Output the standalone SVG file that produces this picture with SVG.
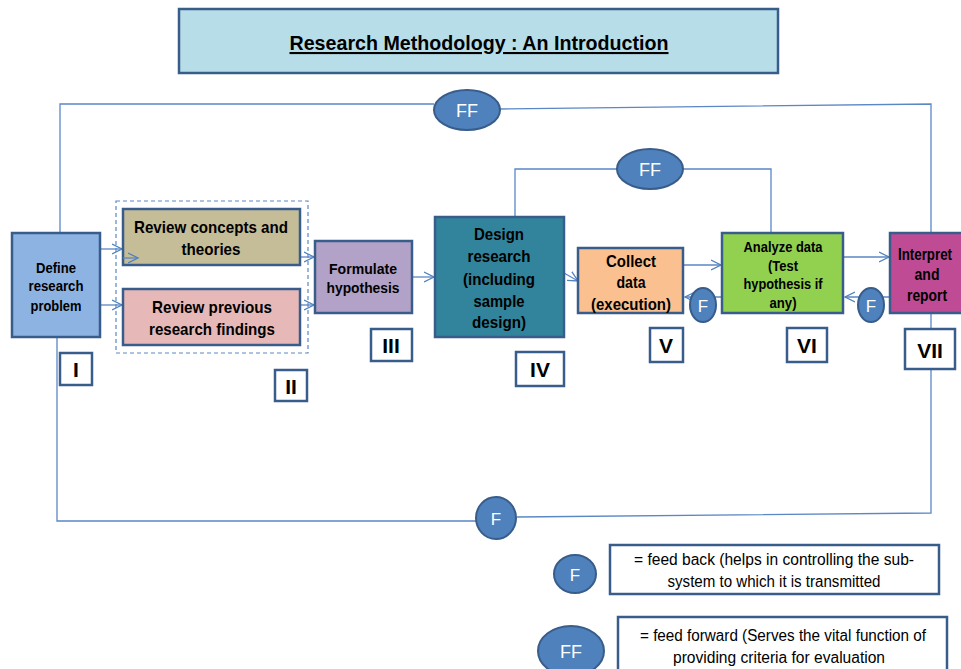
<svg xmlns="http://www.w3.org/2000/svg" width="961" height="669" viewBox="0 0 961 669">
<defs>
<marker id="arr" markerWidth="12" markerHeight="12" refX="10" refY="5" orient="auto" markerUnits="userSpaceOnUse" viewBox="0 0 12 10">
<path d="M0,0 L10,5 L0,10" fill="none" stroke="#4f81bd" stroke-width="1.3"/>
</marker>
<style>
.bx{stroke:#385d8a;stroke-width:2.5}
.num{fill:#fff;stroke:#385d8a;stroke-width:2.5}
.t{font-family:"Liberation Sans Narrow","Liberation Sans",Arial,sans-serif;font-weight:bold;fill:#000;text-anchor:middle}
.n{font-family:"Liberation Sans","Liberation Sans Narrow",Arial,sans-serif;font-weight:bold;fill:#000;text-anchor:middle;font-size:21px}
.lg{font-family:"Liberation Sans Narrow","Liberation Sans",Arial,sans-serif;fill:#000;text-anchor:middle;font-size:16px}
.ov{fill:#4f81bd;stroke:#385d8a;stroke-width:2}
.ot{font-family:"Liberation Sans Narrow","Liberation Sans",Arial,sans-serif;fill:#fff;text-anchor:middle}
.ln{fill:none;stroke:#5b87c5;stroke-width:1.3}
</style>
</defs>
<rect width="961" height="669" fill="#fff"/>

<g id="title">
<rect x="179" y="9" width="599" height="64" fill="#b7dde8" class="bx"/>
<text x="479" y="50" class="t" font-size="21" text-decoration="underline" textLength="379" lengthAdjust="spacingAndGlyphs">Research Methodology : An Introduction</text>
</g>

<g id="connectors">
<line x1="100" y1="249" x2="122" y2="249" class="ln" marker-end="url(#arr)"/>
<line x1="100" y1="305" x2="122" y2="305" class="ln" marker-end="url(#arr)"/>
<line x1="300" y1="257" x2="314" y2="257" class="ln" marker-end="url(#arr)"/>
<line x1="300" y1="305" x2="314" y2="305" class="ln" marker-end="url(#arr)"/>
<line x1="412" y1="277" x2="434" y2="277" class="ln" marker-end="url(#arr)"/>
<line x1="564" y1="273" x2="578" y2="281" class="ln" marker-end="url(#arr)"/>
<line x1="683" y1="265" x2="721" y2="265" class="ln" marker-end="url(#arr)"/>
<line x1="843" y1="257" x2="889" y2="257" class="ln" marker-end="url(#arr)"/>
<line x1="722" y1="297" x2="685" y2="297" class="ln" marker-end="url(#arr)"/>
<line x1="890" y1="297" x2="845" y2="297" class="ln" marker-end="url(#arr)"/>
<polyline points="515,229 515,169 618,169" class="ln"/>
<polyline points="683,169 771,169 771,237" class="ln"/>
<polyline points="60,233 60,104 434,104" class="ln"/>
<polyline points="500,109 931,104 931,233" class="ln"/>
<polyline points="931,313 931,513 517,517" class="ln"/>
<polyline points="477,521 57,521 57,337" class="ln"/>
</g>

<g id="group-II">
<rect x="116" y="201" width="192" height="152" fill="none" stroke="#5b87c5" stroke-width="1.2" stroke-dasharray="4,3"/>
</g>

<g id="define">
<rect x="12" y="233" width="88" height="104" fill="#8db3e2" class="bx"/>
<text class="t" font-size="14"><tspan x="56" y="273" textLength="40" lengthAdjust="spacingAndGlyphs">Define</tspan><tspan x="56" y="291" textLength="55" lengthAdjust="spacingAndGlyphs">research</tspan><tspan x="56" y="311" textLength="51" lengthAdjust="spacingAndGlyphs">problem</tspan></text>
</g>

<g id="review-concepts">
<rect x="123" y="209" width="177" height="56" fill="#c4bd97" class="bx"/>
<text class="t" font-size="17"><tspan x="211" y="233" textLength="154" lengthAdjust="spacingAndGlyphs">Review concepts and</tspan><tspan x="211" y="255" textLength="59" lengthAdjust="spacingAndGlyphs">theories</tspan></text>
<line x1="123" y1="258" x2="138" y2="258" class="ln" marker-end="url(#arr)"/>
</g>

<g id="review-previous">
<rect x="123" y="289" width="177" height="56" fill="#e6b9b8" class="bx"/>
<text class="t" font-size="17"><tspan x="212" y="313" textLength="120" lengthAdjust="spacingAndGlyphs">Review previous</tspan><tspan x="212" y="335" textLength="126" lengthAdjust="spacingAndGlyphs">research findings</tspan></text>
</g>

<g id="formulate">
<rect x="315" y="241" width="97" height="72" fill="#b3a2c7" class="bx"/>
<text class="t" font-size="15"><tspan x="363" y="274" textLength="68" lengthAdjust="spacingAndGlyphs">Formulate</tspan><tspan x="363" y="293" textLength="73" lengthAdjust="spacingAndGlyphs">hypothesis</tspan></text>
</g>

<g id="design">
<rect x="435" y="217" width="129" height="120" fill="#31849b" class="bx"/>
<text class="t" font-size="17"><tspan x="499" y="240" textLength="50" lengthAdjust="spacingAndGlyphs">Design</tspan><tspan x="499" y="262" textLength="63" lengthAdjust="spacingAndGlyphs">research</tspan><tspan x="499" y="285" textLength="72" lengthAdjust="spacingAndGlyphs">(including</tspan><tspan x="499" y="307" textLength="51" lengthAdjust="spacingAndGlyphs">sample</tspan><tspan x="499" y="328" textLength="54" lengthAdjust="spacingAndGlyphs">design)</tspan></text>
</g>

<g id="collect">
<rect x="578" y="248" width="105" height="65" fill="#fac090" class="bx"/>
<text class="t" font-size="17"><tspan x="631" y="267" textLength="50" lengthAdjust="spacingAndGlyphs">Collect</tspan><tspan x="631" y="288" textLength="29" lengthAdjust="spacingAndGlyphs">data</tspan><tspan x="631" y="310" textLength="80" lengthAdjust="spacingAndGlyphs">(execution)</tspan></text>
</g>

<g id="analyze">
<rect x="722" y="233" width="121" height="80" fill="#92d050" class="bx"/>
<text class="t" font-size="15"><tspan x="783" y="252" textLength="79" lengthAdjust="spacingAndGlyphs">Analyze data</tspan><tspan x="783" y="271" textLength="30" lengthAdjust="spacingAndGlyphs">(Test</tspan><tspan x="783" y="289" textLength="79" lengthAdjust="spacingAndGlyphs">hypothesis if</tspan><tspan x="783" y="308" textLength="27" lengthAdjust="spacingAndGlyphs">any)</tspan></text>
</g>

<g id="interpret">
<rect x="890" y="233" width="85" height="80" fill="#be4b94" class="bx"/>
<text class="t" font-size="17"><tspan x="925" y="260" textLength="54" lengthAdjust="spacingAndGlyphs">Interpret</tspan><tspan x="927" y="280" textLength="25" lengthAdjust="spacingAndGlyphs">and</tspan><tspan x="927" y="301" textLength="40" lengthAdjust="spacingAndGlyphs">report</tspan></text>
</g>

<g id="num-I"><rect x="60" y="353" width="32" height="32" class="num"/><text x="76" y="377" class="n" font-size="20">I</text></g>
<g id="num-II"><rect x="275" y="370" width="32" height="31" class="num"/><text x="291" y="394" class="n" font-size="20">II</text></g>
<g id="num-III"><rect x="371" y="329" width="41" height="32" class="num"/><text x="391" y="353" class="n">III</text></g>
<g id="num-IV"><rect x="516" y="352" width="48" height="34" class="num"/><text x="540" y="377" class="n">IV</text></g>
<g id="num-V"><rect x="650" y="328" width="33" height="34" class="num"/><text x="666" y="353" class="n">V</text></g>
<g id="num-VI"><rect x="787" y="328" width="40" height="34" class="num"/><text x="807" y="353" class="n">VI</text></g>
<g id="num-VII"><rect x="905" y="329" width="50" height="40" class="num"/><text x="930" y="358" class="n">VII</text></g>

<g id="ff-top"><ellipse cx="467" cy="110" rx="33" ry="20" class="ov"/><text x="467" y="117" class="ot" font-size="18">FF</text></g>
<g id="ff-mid"><ellipse cx="650" cy="169" rx="33" ry="20" class="ov"/><text x="650" y="176" class="ot" font-size="18">FF</text></g>
<g id="f-collect"><ellipse cx="703" cy="305" rx="13" ry="17" class="ov"/><text x="703" y="312" class="ot" font-size="17">F</text></g>
<g id="f-analyze"><ellipse cx="871" cy="305" rx="13" ry="17" class="ov"/><text x="871" y="312" class="ot" font-size="17">F</text></g>
<g id="f-bottom"><ellipse cx="496" cy="518" rx="20" ry="21" class="ov"/><text x="496" y="525" class="ot" font-size="17">F</text></g>

<g id="legend-f">
<ellipse cx="575" cy="574" rx="21" ry="19" class="ov"/><text x="575" y="581" class="ot" font-size="17">F</text>
<rect x="610" y="545" width="329" height="49" fill="#fff" class="bx"/>
<text class="lg"><tspan x="774" y="565" textLength="280" lengthAdjust="spacingAndGlyphs">= feed back (helps in controlling the sub-</tspan><tspan x="774" y="587" textLength="213" lengthAdjust="spacingAndGlyphs">system to which it is transmitted</tspan></text>
</g>

<g id="legend-ff">
<ellipse cx="571" cy="651" rx="33" ry="25" class="ov"/><text x="571" y="658" class="ot" font-size="18">FF</text>
<rect x="618" y="617" width="329" height="60" fill="#fff" class="bx"/>
<text class="lg"><tspan x="783" y="641" textLength="286" lengthAdjust="spacingAndGlyphs">= feed forward (Serves the vital function of</tspan><tspan x="779" y="663" textLength="212" lengthAdjust="spacingAndGlyphs">providing criteria for evaluation</tspan></text>
</g>
</svg>
